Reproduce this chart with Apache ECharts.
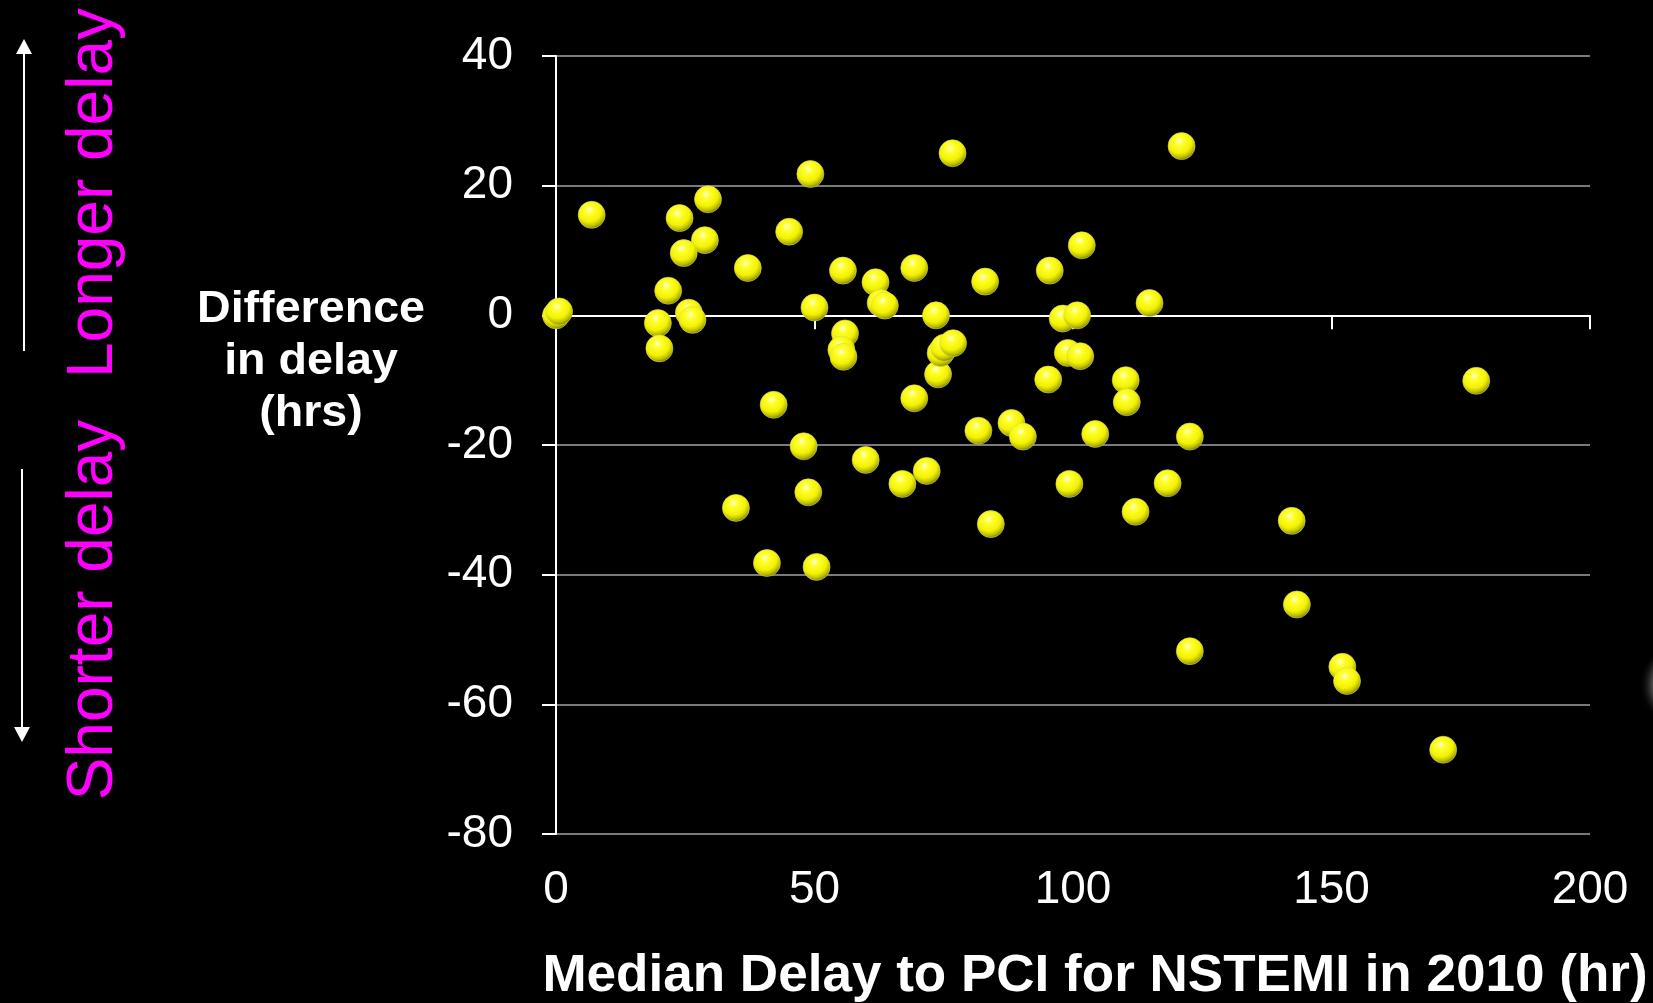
<!DOCTYPE html>
<html>
<head>
<meta charset="utf-8">
<script src="https://cdn.jsdelivr.net/npm/echarts@6/dist/echarts.min.js"></script>
<style>
html,body{margin:0;padding:0;background:#000;}
#chart{width:1653px;height:1003px;}
</style>
</head>
<body>
<div id="chart"></div>
<script>
// Median delay to PCI for NSTEMI in 2010 (hr)
const medianDelay = [0, 0.6, 6.9, 23.9, 29.4, 28.8, 24.7, 21.7, 19.7, 20.0, 25.7, 26.4, 37.1, 45.1, 49.2, 50.0, 42.1, 47.9, 48.8, 34.8, 40.8, 50.4, 55.5, 55.9, 55.2, 55.6, 59.9, 61.8, 62.8, 63.6, 67.0, 69.3, 69.3, 71.7, 73.5, 73.9, 74.4, 75.1, 76.8, 76.7, 81.7, 83.0, 84.1, 88.1, 90.3, 95.5, 95.2, 98.0, 99.3, 100.8, 99.0, 101.4, 101.7, 104.3, 110.2, 110.4, 112.1, 114.8, 118.3, 121.0, 122.6, 122.6, 142.3, 143.3, 152.1, 153.0, 171.6, 178.0];
// Difference in delay (hrs)
const delayDiff = [0, 0.6, 15.5, 15.0, 17.9, 11.6, 9.6, 3.8, -1.2, -5.1, 0.4, -0.7, 7.3, 12.9, 21.8, 1.2, -13.8, -20.2, -27.3, -29.7, -38.2, -38.8, 6.9, -2.8, -5.3, -6.4, -22.3, 5.1, 1.9, 1.5, -26.0, 7.3, -12.8, -24.0, 0.0, -9.1, -5.8, -5.0, -4.3, 25.0, -17.8, 5.2, -32.2, -16.6, -18.7, 6.9, -9.9, -0.5, -26.0, 0.0, -5.8, -6.3, 10.8, -18.3, -10.0, -13.4, -30.3, 1.9, -25.9, 26.1, -18.7, -51.8, -31.7, -44.6, -54.2, -56.4, -67.0, -10.1];
const xTicks = [0, 50, 100, 150, 200];
const yTicks = [-80, -60, -40, -20, 0, 20, 40];
const xTitle = 'Median Delay to PCI for NSTEMI in 2010 (hr)';
const yTitle = 'Difference\nin delay\n(hrs)';
const upLabel = 'Longer delay';
const downLabel = 'Shorter delay';

const points = medianDelay.map((x, i) => [x, delayDiff[i]]);
const FONT = '"Liberation Sans", Arial, sans-serif';

const chart = echarts.init(document.getElementById('chart'));
const sphere = new echarts.graphic.RadialGradient(0.42, 0.32, 0.7, [
  {offset: 0, color: '#ffffd8'},
  {offset: 0.22, color: '#ffff30'},
  {offset: 0.62, color: '#f2f200'},
  {offset: 0.85, color: '#b8b800'},
  {offset: 1, color: '#707000'}
]);

chart.setOption({
  backgroundColor: '#000',
  animation: false,
  grid: {left: 556, right: 63, top: 56, bottom: 169, containLabel: false},
  xAxis: [{
    type: 'value', min: xTicks[0], max: xTicks[xTicks.length - 1], interval: 50,
    position: 'bottom',
    axisLine: {show: false, onZero: false},
    axisTick: {show: false},
    splitLine: {show: false},
    axisLabel: {color: '#fff', fontSize: 46, fontFamily: FONT, margin: 33}
  }, {
    type: 'value', min: xTicks[0], max: xTicks[xTicks.length - 1], interval: 50,
    position: 'bottom',
    axisLine: {show: true, onZero: true, lineStyle: {color: '#fff', width: 2}},
    axisTick: {show: true, length: 14, lineStyle: {color: '#fff', width: 2}},
    axisLabel: {show: false},
    splitLine: {show: false}
  }],
  yAxis: {
    type: 'value', min: yTicks[0], max: yTicks[yTicks.length - 1], interval: 20,
    axisLine: {show: true, lineStyle: {color: '#fff', width: 2}},
    axisTick: {show: true, length: 14, lineStyle: {color: '#fff', width: 2}},
    splitLine: {show: true, lineStyle: {color: '#7a7a7a', width: 2}},
    axisLabel: {color: '#fff', fontSize: 46, fontFamily: FONT, margin: 43}
  },
  series: [{
    type: 'scatter',
    xAxisIndex: 0,
    data: points,
    symbol: 'circle',
    symbolSize: 27,
    itemStyle: {color: sphere, borderColor: '#d8d860', borderWidth: 0.6, opacity: 1},
    z: 5
  }],
  graphic: [
    {type: 'circle', shape: {cx: 1684, cy: 685, r: 45}, silent: true, style: {
      fill: new echarts.graphic.RadialGradient(0.5, 0.5, 0.5, [
        {offset: 0, color: 'rgba(200,200,200,0.9)'},
        {offset: 0.7, color: 'rgba(150,150,150,0.5)'},
        {offset: 1, color: 'rgba(0,0,0,0)'}])}},
    {type: 'text', x: 1095, y: 977, scaleX: 1.04, style: {
      text: xTitle, fill: '#fff', font: 'bold 51px ' + FONT, align: 'center', verticalAlign: 'middle'}},
    {type: 'text', x: 311, y: 362, scaleX: 1.06, style: {
      text: yTitle, fill: '#fff', font: 'bold 44px ' + FONT, lineHeight: 52, align: 'center', verticalAlign: 'middle'}},
    {type: 'text', x: 94, y: 193, rotation: Math.PI / 2, style: {
      text: upLabel, fill: '#ff00ff', font: '64px ' + FONT, align: 'center', verticalAlign: 'middle'}},
    {type: 'text', x: 94, y: 610, rotation: Math.PI / 2, style: {
      text: downLabel, fill: '#ff00ff', font: '64px ' + FONT, align: 'center', verticalAlign: 'middle'}},
    {type: 'line', shape: {x1: 24, y1: 351, x2: 24, y2: 52}, style: {stroke: '#fff', lineWidth: 2}},
    {type: 'polygon', shape: {points: [[24, 39], [16, 54], [32, 54]]}, style: {fill: '#fff'}},
    {type: 'line', shape: {x1: 22, y1: 469, x2: 22, y2: 728}, style: {stroke: '#fff', lineWidth: 2}},
    {type: 'polygon', shape: {points: [[22, 742], [14, 727], [30, 727]]}, style: {fill: '#fff'}}
  ]
});
</script>
</body>
</html>
